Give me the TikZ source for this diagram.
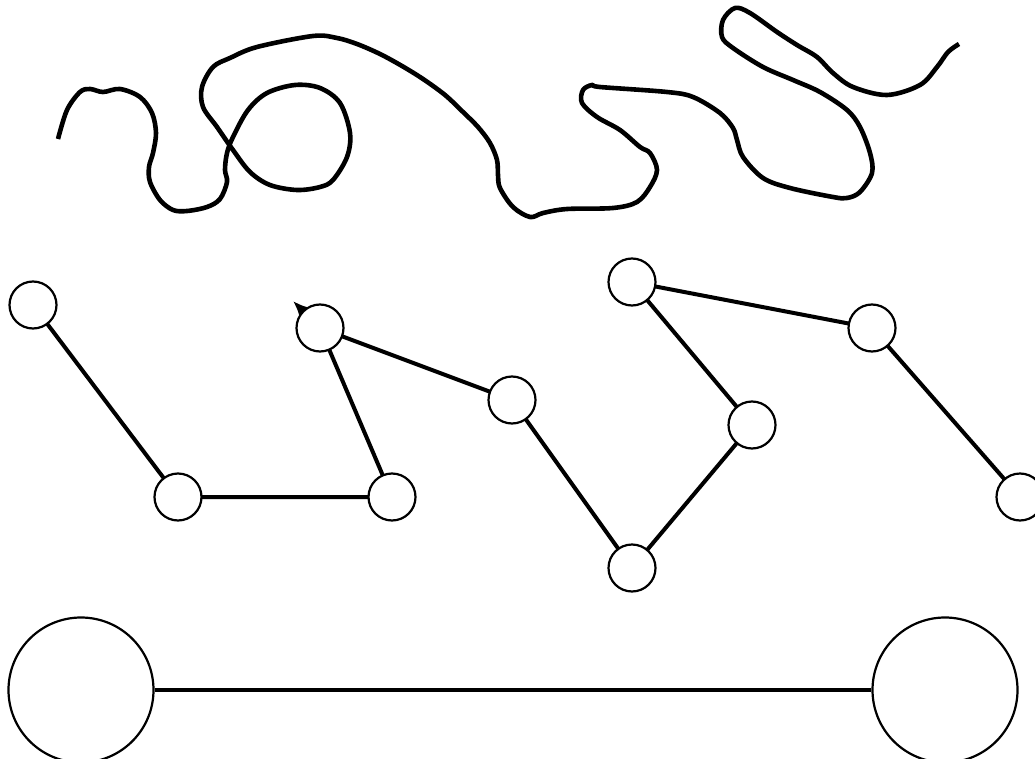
\documentclass[tikz,border=0pt]{standalone}
\usepackage{tikz}
\usetikzlibrary{arrows.meta,positioning}

\begin{document}
\begin{tikzpicture}[x=1pt,y=-1pt,>=Latex,
  vertex/.style={draw,circle,minimum size=47pt,inner sep=0pt,line width=2.2pt,fill=white},
  hub/.style={draw,circle,minimum size=145pt,inner sep=0pt,line width=2.2pt,fill=white},
  link/.style={line width=4pt}]
\useasboundingbox (0,0) rectangle (1035,759);
% scribble along the top
\draw[line width=4.6pt,line cap=butt,line join=round] plot[smooth,tension=0.55] coordinates {
 (58,139) (67,110) (80,92) (90,89) (103,92) (120,89) (140,97) (152,113) (156,133)
 (153,153) (149,167) (150,182) (160,200) (173,210) (187,211) (207,207) (220,199)
 (227,182) (225,170) (227,153) (233,137) (248,110) (267,93) (295,85) (320,88)
 (340,103) (350,133) (347,157) (333,180) (320,187) (297,190) (270,185) (250,172)
 (233,150) (217,127) (203,107) (202,87) (213,67) (230,58) (257,47) (313,36) (337,38)
 (357,44) (380,54) (402,66) (423,79) (445,95) (463,112) (478,127) (490,143) (497,160)
 (498,175) (500,188) (513,207) (530,217)
 (543,213) (567,209) (613,208) (637,202) (650,187) (657,170) (650,153) (640,147)
 (620,130) (597,117) (582,103) (583,90) (592,85) (600,87) (667,92) (693,97)
 (720,113) (733,128) (737,140) (743,157) (763,178) (790,188) (833,197) (847,198)
 (860,192) (872,173) (870,153) (860,127) (847,110) (820,92) (793,80) (763,67)
 (733,48) (722,37) (723,20) (735,8) (750,13) (777,32) (797,45) (817,57) (833,73)
 (853,87) (887,95) (920,85) (937,67) (948,52) (959,44)};
% chain of vertices
\coordinate (tip) at (293,301);
\draw[link,-{Latex[length=17pt,width=15pt]}] (320,328) -- (tip);
\draw[link] (33,305) -- (178,497) -- (392,497) -- (320,328) -- (512,400) -- (632,568)
  -- (752,425) -- (632,282) -- (872,328) -- (1020,497);
\node[vertex] (a) at (33,305) {};
\node[vertex] (b) at (178,497) {};
\node[vertex] (c) at (392,497) {};
\node[vertex] (d) at (320,328) {};
\node[vertex] (e) at (512,400) {};
\node[vertex] (f) at (632,568) {};
\node[vertex] (g) at (752,425) {};
\node[vertex] (h) at (632,282) {};
\node[vertex] (i) at (872,328) {};
\node[vertex] (j) at (1020,497) {};
% two big ends
\node[hub] (left) at (81,690) {};
\node[hub] (right) at (945,690) {};
\draw[link] (left) -- (right);
\end{tikzpicture}
\end{document}
